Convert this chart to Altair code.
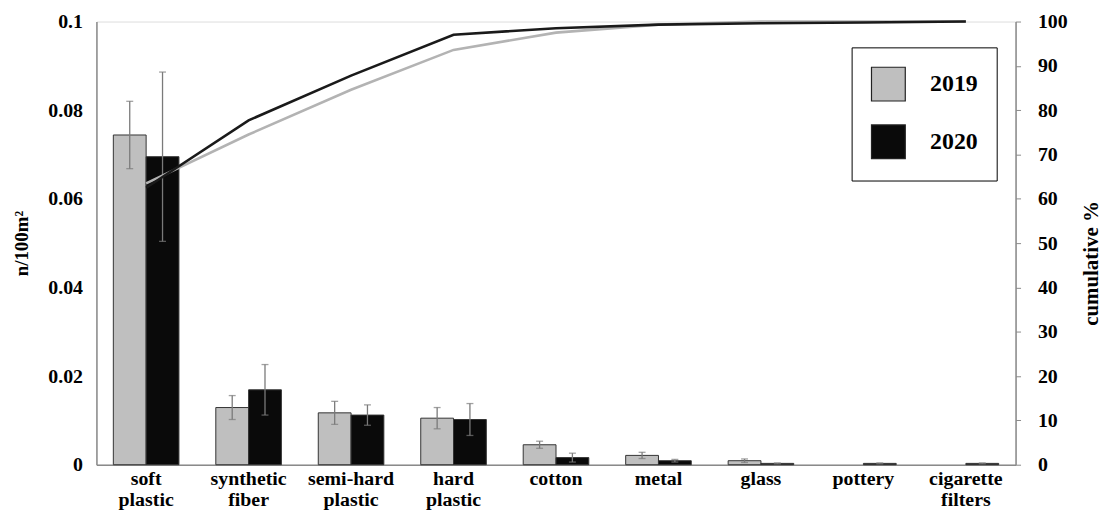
import altair as alt
import pandas as pd

categories = ["soft plastic", "synthetic fiber", "semi-hard plastic", "hard plastic",
              "cotton", "metal", "glass", "pottery", "cigarette filters"]
years = ["2019", "2020"]
mean2019 = [0.0744, 0.0129, 0.0117, 0.0105, 0.0045, 0.0021, 0.0009, 0.0, 0.0]
err2019 = [0.0076, 0.0027, 0.0026, 0.0024, 0.0008, 0.0007, 0.0004, 0.0, 0.0]
mean2020 = [0.0695, 0.0169, 0.0112, 0.0102, 0.0016, 0.0009, 0.0003, 0.0003, 0.0003]
err2020 = [0.0191, 0.0057, 0.0023, 0.0036, 0.0010, 0.0003, 0.0001, 0.0001, 0.0001]
cum2019 = [63.5, 74.5, 84.6, 93.6, 97.5, 99.3, 100, 100, 100]
cum2020 = [62.5, 77.7, 87.8, 97.0, 98.5, 99.3, 99.6, 99.8, 100]

rows = []
for yr, means, errs, cums in [("2019", mean2019, err2019, cum2019), ("2020", mean2020, err2020, cum2020)]:
    for c, m, e, cu in zip(categories, means, errs, cums):
        rows.append({"cat": c, "year": yr, "mean": m, "lo": m - e, "hi": m + e, "err": e, "cum": cu})
df = pd.DataFrame(rows)

FONT = "Liberation Serif"
AXIS_GRAY = "#8a8a8a"

xenc = alt.X("cat:N", sort=categories, title=None,
             scale=alt.Scale(paddingInner=0.36, paddingOuter=0.165),
             axis=alt.Axis(labelExpr="split(datum.label, ' ')", labelAngle=0,
                           ticks=False, domainColor=AXIS_GRAY, domainWidth=1.5,
                           labelFont=FONT, labelFontWeight="bold", labelFontSize=20,
                           labelColor="black", labelPadding=4, labelLineHeight=21))
xoff = alt.XOffset("year:N", scale=alt.Scale(domain=years))

left_axis = alt.Axis(values=[0, 0.02, 0.04, 0.06, 0.08, 0.1], format="~g", grid=False,
                     ticks=False, domainColor=AXIS_GRAY, domainWidth=1.5,
                     labelFont=FONT, labelFontWeight="bold", labelFontSize=20,
                     labelColor="black", labelPadding=14,
                     title="n/100m²", titleFont=FONT, titleFontWeight="bold",
                     titleFontSize=19, titleColor="black", titlePadding=16)
yscale = alt.Scale(domain=[0, 0.1], nice=False)

bars = alt.Chart(df).transform_filter("datum.mean > 0").mark_bar(
    stroke="#333333", strokeWidth=1
).encode(
    x=xenc, xOffset=xoff,
    y=alt.Y("mean:Q", scale=yscale, axis=left_axis),
    color=alt.Color("year:N", scale=alt.Scale(domain=years, range=["#bfbfbf", "#0a0a0a"]),
                    legend=alt.Legend(title=None, orient="none", legendX=760, legendY=26,
                                      symbolType="square", symbolSize=1156,
                                      symbolStrokeColor="#222222", symbolStrokeWidth=1.2,
                                      labelFont=FONT, labelFontWeight="bold", labelFontSize=24,
                                      labelColor="black", labelOffset=24, rowPadding=18,
                                      padding=19, strokeColor="black", fillColor="white",
                                      symbolOpacity=1)),
)

err_rule = alt.Chart(df).transform_filter("datum.err > 0").mark_rule(
    color="#7a7a7a", strokeWidth=1.3
).encode(
    x=xenc, xOffset=xoff,
    y=alt.Y("lo:Q", scale=yscale), y2="hi:Q",
)
err_cap_hi = alt.Chart(df).transform_filter("datum.err > 0").mark_tick(
    color="#7a7a7a", thickness=1.3, size=7, orient="horizontal"
).encode(x=xenc, xOffset=xoff, y=alt.Y("hi:Q", scale=yscale))
err_cap_lo = alt.Chart(df).transform_filter("datum.err > 0").mark_tick(
    color="#7a7a7a", thickness=1.3, size=7, orient="horizontal"
).encode(x=xenc, xOffset=xoff, y=alt.Y("lo:Q", scale=yscale))

left = alt.layer(bars, err_rule, err_cap_hi, err_cap_lo)

right_axis = alt.Axis(orient="right", values=list(range(0, 101, 10)), grid=False,
                      tickSize=5, tickColor=AXIS_GRAY, domainColor=AXIS_GRAY, domainWidth=1.5,
                      labelFont=FONT, labelFontWeight="bold", labelFontSize=20,
                      labelColor="black", labelPadding=17,
                      title="cumulative %", titleFont=FONT, titleFontWeight="bold",
                      titleFontSize=21, titleColor="black", titleAngle=270, titlePadding=34,
                      titleY=243)

lines = alt.Chart(df).mark_line(strokeWidth=2.6).encode(
    x=xenc,
    y=alt.Y("cum:Q", scale=alt.Scale(domain=[0, 100], nice=False), axis=right_axis),
    stroke=alt.Stroke("year:N", scale=alt.Scale(domain=years, range=["#b3b3b3", "#1a1a1a"]),
                      legend=None),
    order=alt.Order("year:N", sort="ascending"),
)

chart = alt.layer(left, lines).resolve_scale(y="independent", stroke="independent").properties(
    width=925, height=446,
    autosize="none",
    padding={"left": 89, "top": 12, "right": 90, "bottom": 50},
).configure_view(stroke=None).configure(background="white")

chart.save("out.html", embed_options={"renderer": "svg", "actions": False})
